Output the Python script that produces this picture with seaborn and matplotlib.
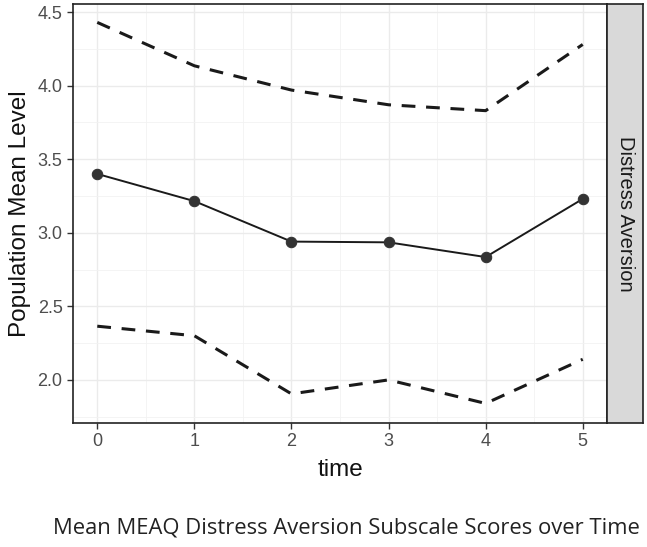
import matplotlib
matplotlib.use("Agg")
import matplotlib.pyplot as plt
from matplotlib.ticker import MultipleLocator
import seaborn as sns
import pandas as pd

# ---- data ----
time = [0, 1, 2, 3, 4, 5]
mean_level = [3.40, 3.215, 2.94, 2.935, 2.835, 3.23]
upper_bound = [4.43, 4.135, 3.97, 3.87, 3.83, 4.28]
lower_bound = [2.365, 2.30, 1.905, 2.00, 1.84, 2.14]
y_ticks = [2.0, 2.5, 3.0, 3.5, 4.0, 4.5]
x_ticks = [0, 1, 2, 3, 4, 5]
facet_label = "Distress Aversion"
x_label = "time"
y_label = "Population Mean Level"
caption = "Mean MEAQ Distress Aversion Subscale Scores over Time"

sns.set_theme(style="white")
plt.rcParams["font.family"] = ["Liberation Sans", "DejaVu Sans"]

W, H = 647, 547
fig = plt.figure(figsize=(W / 100, H / 100), dpi=100)
fig.patch.set_facecolor("white")

L, R, T, B = 73, 607, 4, 423
ax = fig.add_axes([L / W, 1 - B / H, (R - L) / W, (B - T) / H])
sax = fig.add_axes([R / W, 1 - B / H, 36 / W, (B - T) / H])

df_mean = pd.DataFrame({"time": time, "value": mean_level})
df_up = pd.DataFrame({"time": time, "value": upper_bound})
df_lo = pd.DataFrame({"time": time, "value": lower_bound})

line_col = "#1a1a1a"
for d in (df_up, df_lo):
    sns.lineplot(data=d, x="time", y="value", ax=ax, color=line_col,
                 linewidth=2.2, linestyle=(0, (4.5, 3.5)), zorder=3)
sns.lineplot(data=df_mean, x="time", y="value", ax=ax, color=line_col,
             linewidth=1.4, marker="o", markersize=7.5,
             markerfacecolor="#333333", markeredgecolor="#333333", zorder=4)

ax.set_xlim(-0.25, 5.25)
ax.set_ylim(1.707, 4.555)
ax.set_xticks(x_ticks)
ax.set_yticks(y_ticks)
ax.set_yticklabels([f"{v:.1f}" for v in y_ticks])
ax.xaxis.set_minor_locator(MultipleLocator(0.5))
ax.yaxis.set_minor_locator(MultipleLocator(0.25))
ax.grid(True, which="major", color="#ebebeb", linewidth=1.0)
ax.grid(True, which="minor", color="#f2f2f2", linewidth=0.6)
ax.set_axisbelow(True)
ax.tick_params(axis="both", which="major", direction="out", length=4.5,
               width=1.0, color="#333333", labelsize=13, labelcolor="#4d4d4d",
               pad=3, bottom=True, left=True)
ax.tick_params(axis="both", which="minor", length=0)
for s in ax.spines.values():
    s.set_color("#222222")
    s.set_linewidth(1.2)
ax.set_xlabel(x_label, fontsize=17.5, color="#111111", labelpad=6)
ax.set_ylabel(y_label, fontsize=17.5, color="#111111", labelpad=5)

sax.set_facecolor("#d9d9d9")
sax.set_xticks([])
sax.set_yticks([])
for s in sax.spines.values():
    s.set_color("#222222")
    s.set_linewidth(1.2)
sax.text(0.5, 0.5, facet_label, rotation=-90, ha="center", va="center",
         fontsize=14.5, color="#1a1a1a", transform=sax.transAxes)

fig.text(346 / W, 1 - 528 / H, caption, ha="center", va="center",
         fontsize=15.8, color="#222222", family=["Open Sans", "DejaVu Sans"])

fig.savefig("out.png", dpi=100, facecolor="white")
